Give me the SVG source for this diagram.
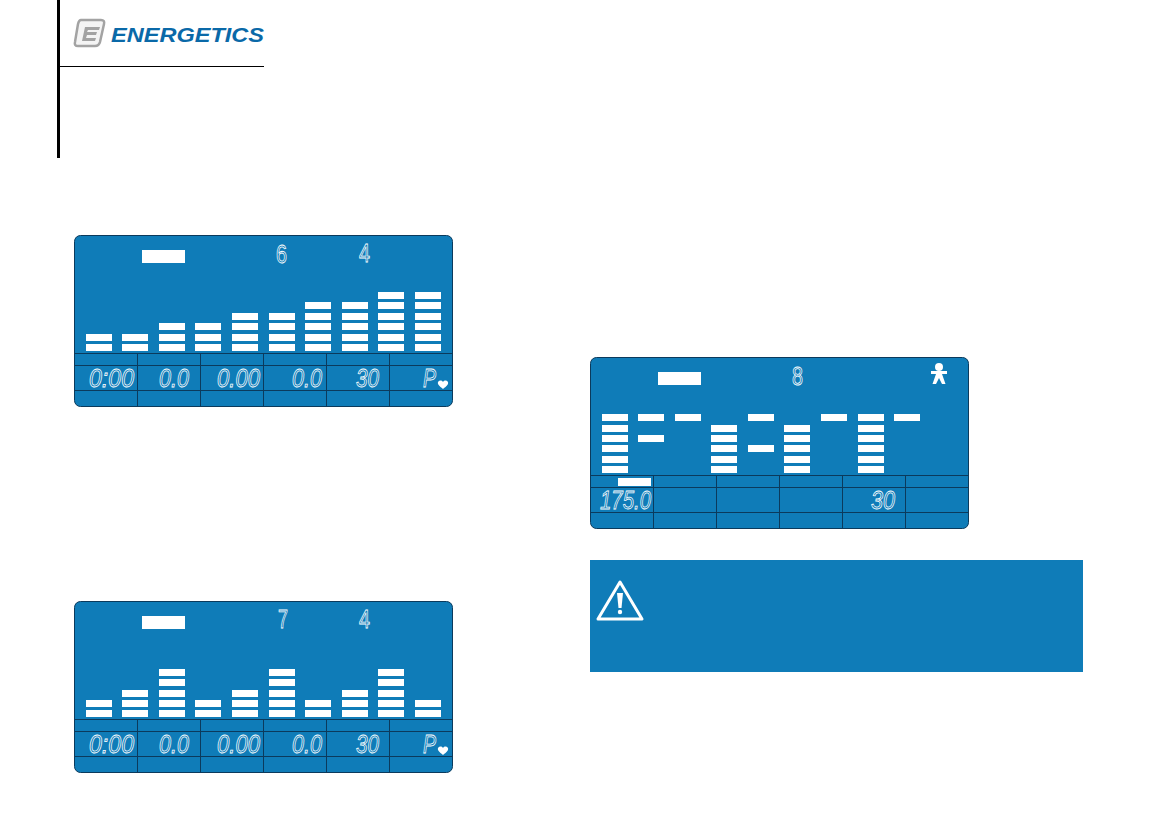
<svg xmlns="http://www.w3.org/2000/svg" width="1157" height="839" viewBox="0 0 1157 839">
<style>
.lcd{fill:#0f7cb8;stroke:#fff;stroke-width:.8;font-family:"Liberation Sans",Arial,sans-serif;font-style:italic;font-size:26px}
.big{font-style:normal;font-size:26px}
.grid{stroke:#0b3a5c;stroke-width:1;fill:none}
.brand{fill:#0a69a8;font-family:"Liberation Sans",Arial,sans-serif;font-weight:700;font-style:italic;font-size:21px}
</style>
<defs>
<rect id="b" width="26" height="7" fill="#fff"/>
<g id="frame">
<rect x="74.5" y="235.5" width="378" height="171" rx="6" fill="#0f7cb8" stroke="#0b3a5c"/>
<path class="grid" d="M75 353.500H452M75 365.500H452M75 390.500H452M137.500 354V406M200.500 354V406M263.500 354V406M326.500 354V406M389.500 354V406"/>
<rect x="142" y="250" width="43" height="13" fill="#fff"/>
</g>
<path id="heart" d="M0 0C-2-3-6-1-5 2C-4 4-1 6 0 7C1 6 4 4 5 2C6-1 2-3 0 0Z" fill="#fff"/>
</defs>
<g id="page-rules">
<rect x="57" y="0" width="3" height="158" fill="#000"/>
<rect x="59" y="66" width="205" height="1" fill="#000"/>
</g>
<g id="logo">
<path d="M81 20H101Q105 20 104 24L100 42Q99 46 95 46H78Q74 46 75 42L78 24Q79 20 81 20Z" fill="#f4f4f4" stroke="#a3a3a3" stroke-width="2.500"/>
<path d="M85 27H100L99 30H88L87 32H97L96 35H87L86 38H96L95 41H82Z" fill="#a3a3a3"/>
<text x="111" y="42" class="brand" textLength="153" lengthAdjust="spacingAndGlyphs">ENERGETICS</text>
</g>
<g id="display-1">
<use href="#frame"/>
<g id="bars-1">
<use href="#b" x="86" y="344"/><use href="#b" x="86" y="334"/>
<use href="#b" x="122" y="344"/><use href="#b" x="122" y="334"/>
<use href="#b" x="159" y="344"/><use href="#b" x="159" y="334"/><use href="#b" x="159" y="323"/>
<use href="#b" x="195" y="344"/><use href="#b" x="195" y="334"/><use href="#b" x="195" y="323"/>
<use href="#b" x="232" y="344"/><use href="#b" x="232" y="334"/><use href="#b" x="232" y="323"/><use href="#b" x="232" y="313"/>
<use href="#b" x="269" y="344"/><use href="#b" x="269" y="334"/><use href="#b" x="269" y="323"/><use href="#b" x="269" y="313"/>
<use href="#b" x="305" y="344"/><use href="#b" x="305" y="334"/><use href="#b" x="305" y="323"/><use href="#b" x="305" y="313"/><use href="#b" x="305" y="302"/>
<use href="#b" x="342" y="344"/><use href="#b" x="342" y="334"/><use href="#b" x="342" y="323"/><use href="#b" x="342" y="313"/><use href="#b" x="342" y="302"/>
<use href="#b" x="378" y="344"/><use href="#b" x="378" y="334"/><use href="#b" x="378" y="323"/><use href="#b" x="378" y="313"/><use href="#b" x="378" y="302"/><use href="#b" x="378" y="292"/>
<use href="#b" x="415" y="344"/><use href="#b" x="415" y="334"/><use href="#b" x="415" y="323"/><use href="#b" x="415" y="313"/><use href="#b" x="415" y="302"/><use href="#b" x="415" y="292"/>
</g>
<text class="lcd big" x="276" y="263" textLength="11" lengthAdjust="spacingAndGlyphs">6</text><text class="lcd big" x="359" y="262" textLength="11" lengthAdjust="spacingAndGlyphs">4</text>
<text class="lcd" x="89" y="387" textLength="45" lengthAdjust="spacingAndGlyphs">0:00</text><text class="lcd" x="159" y="387" textLength="30" lengthAdjust="spacingAndGlyphs">0.0</text><text class="lcd" x="217" y="387" textLength="43" lengthAdjust="spacingAndGlyphs">0.00</text><text class="lcd" x="292" y="387" textLength="30" lengthAdjust="spacingAndGlyphs">0.0</text><text class="lcd" x="356" y="387" textLength="23" lengthAdjust="spacingAndGlyphs">30</text><text class="lcd" x="423" y="387" textLength="13" lengthAdjust="spacingAndGlyphs">P</text>
<use href="#heart" x="443" y="382"/>
</g>
<g id="display-2">
<use href="#frame" x="0" y="366"/>
<g id="bars-2">
<use href="#b" x="86" y="710"/><use href="#b" x="86" y="700"/>
<use href="#b" x="122" y="710"/><use href="#b" x="122" y="700"/><use href="#b" x="122" y="690"/>
<use href="#b" x="159" y="710"/><use href="#b" x="159" y="700"/><use href="#b" x="159" y="690"/><use href="#b" x="159" y="679"/><use href="#b" x="159" y="669"/>
<use href="#b" x="195" y="710"/><use href="#b" x="195" y="700"/>
<use href="#b" x="232" y="710"/><use href="#b" x="232" y="700"/><use href="#b" x="232" y="690"/>
<use href="#b" x="269" y="710"/><use href="#b" x="269" y="700"/><use href="#b" x="269" y="690"/><use href="#b" x="269" y="679"/><use href="#b" x="269" y="669"/>
<use href="#b" x="305" y="710"/><use href="#b" x="305" y="700"/>
<use href="#b" x="342" y="710"/><use href="#b" x="342" y="700"/><use href="#b" x="342" y="690"/>
<use href="#b" x="378" y="710"/><use href="#b" x="378" y="700"/><use href="#b" x="378" y="690"/><use href="#b" x="378" y="679"/><use href="#b" x="378" y="669"/>
<use href="#b" x="415" y="710"/><use href="#b" x="415" y="700"/>
</g>
<text class="lcd big" x="278" y="628" textLength="10" lengthAdjust="spacingAndGlyphs">7</text><text class="lcd big" x="359" y="628" textLength="11" lengthAdjust="spacingAndGlyphs">4</text>
<text class="lcd" x="89" y="753" textLength="45" lengthAdjust="spacingAndGlyphs">0:00</text><text class="lcd" x="159" y="753" textLength="30" lengthAdjust="spacingAndGlyphs">0.0</text><text class="lcd" x="217" y="753" textLength="43" lengthAdjust="spacingAndGlyphs">0.00</text><text class="lcd" x="292" y="753" textLength="30" lengthAdjust="spacingAndGlyphs">0.0</text><text class="lcd" x="356" y="753" textLength="23" lengthAdjust="spacingAndGlyphs">30</text><text class="lcd" x="423" y="753" textLength="13" lengthAdjust="spacingAndGlyphs">P</text>
<use href="#heart" x="443" y="748"/>
</g>
<g id="display-3">
<use href="#frame" x="516" y="122"/>
<g id="bars-3">
<use href="#b" x="602" y="466"/><use href="#b" x="602" y="456"/><use href="#b" x="602" y="445"/><use href="#b" x="602" y="435"/><use href="#b" x="602" y="425"/><use href="#b" x="602" y="414"/>
<use href="#b" x="638" y="435"/><use href="#b" x="638" y="414"/>
<use href="#b" x="675" y="414"/>
<use href="#b" x="711" y="466"/><use href="#b" x="711" y="456"/><use href="#b" x="711" y="445"/><use href="#b" x="711" y="435"/><use href="#b" x="711" y="425"/>
<use href="#b" x="748" y="445"/><use href="#b" x="748" y="414"/>
<use href="#b" x="784" y="466"/><use href="#b" x="784" y="456"/><use href="#b" x="784" y="445"/><use href="#b" x="784" y="435"/><use href="#b" x="784" y="425"/>
<use href="#b" x="821" y="414"/>
<use href="#b" x="858" y="466"/><use href="#b" x="858" y="456"/><use href="#b" x="858" y="445"/><use href="#b" x="858" y="435"/><use href="#b" x="858" y="425"/><use href="#b" x="858" y="414"/>
<use href="#b" x="894" y="414"/>
</g>
<rect x="618" y="478" width="33" height="8" fill="#fff"/>
<text class="lcd" x="600" y="509" textLength="51" lengthAdjust="spacingAndGlyphs">175.0</text><text class="lcd" x="871" y="509" textLength="24" lengthAdjust="spacingAndGlyphs">30</text>
<text class="lcd big" x="792" y="385" textLength="11" lengthAdjust="spacingAndGlyphs">8</text>
<g id="person-icon" fill="#fff">
<circle cx="939" cy="367" r="4"/>
<path d="M931 371H947V374H942L945.500 384H942L939 378L936 384H932.500L936 374H931Z"/>
</g>
</g>
<g id="warning">
<rect x="590" y="560" width="493" height="112" fill="#0f7cb8"/>
<path d="M620 582L642 619H598Z" fill="none" stroke="#fff" stroke-width="3" stroke-linejoin="round"/>
<path d="M617 593H623L621.500 608H618.500Z" fill="#fff"/><circle cx="620" cy="612" r="2.200" fill="#fff"/>
</g>
</svg>
